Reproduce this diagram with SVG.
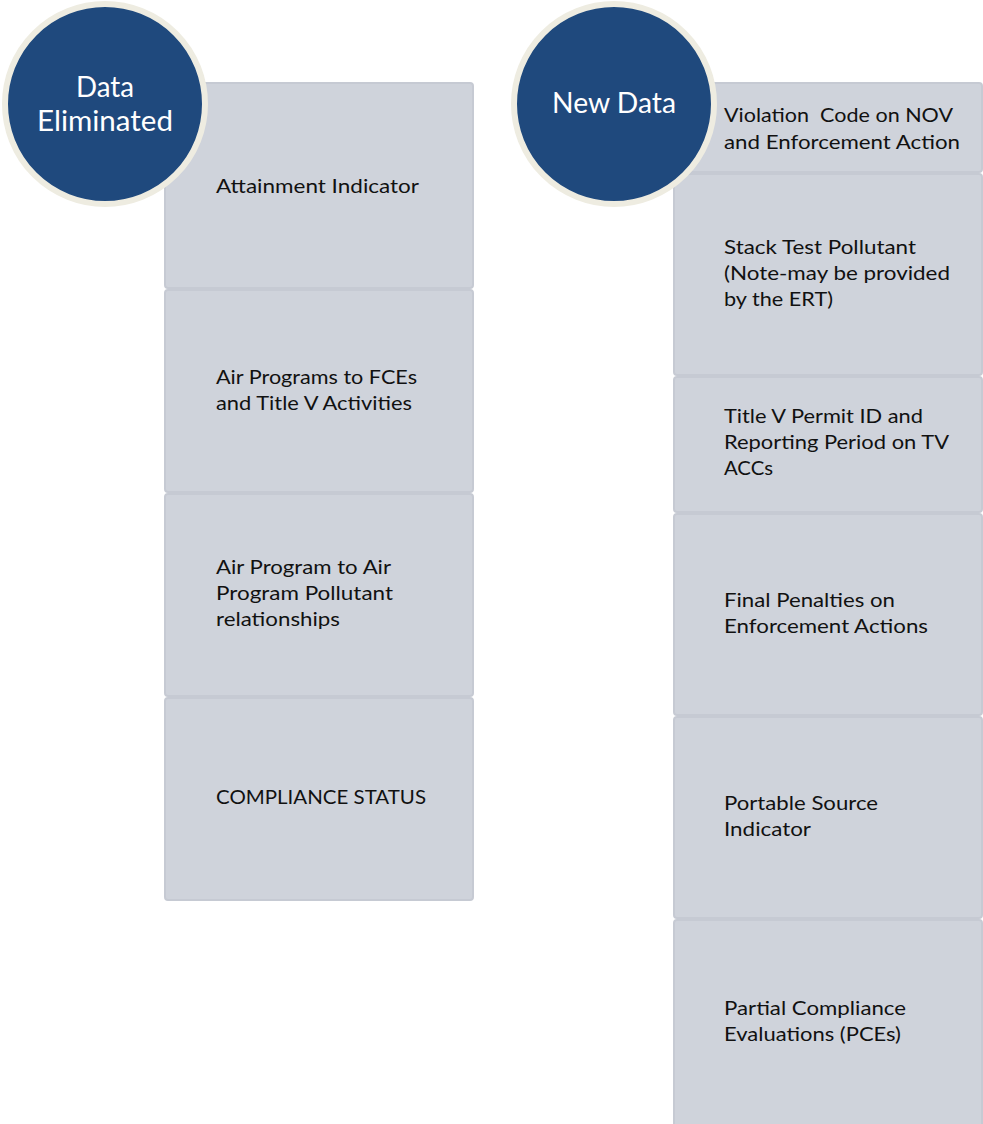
<svg xmlns="http://www.w3.org/2000/svg" width="983" height="1124" viewBox="0 0 983 1124">
<style>
.box{fill:#CFD3DB;stroke:#C6CAD3;stroke-width:2}
.t{font-family:Lato,"Open Sans","Liberation Sans",sans-serif;font-size:20px;fill:#111}
.c{fill:#1F497D;stroke:#EEECE1;stroke-width:6}
.ct{font-family:Lato,"Open Sans","Liberation Sans",sans-serif;font-size:28px;fill:#FFFFFF;text-anchor:middle}
</style>
<rect width="983" height="1124" fill="#FFFFFF"/>
<g id="left-boxes">
<g id="box-attainment"><rect class="box" x="165" y="83" width="308" height="205" rx="3"/>
<text class="t" x="216" y="193" textLength="203" lengthAdjust="spacingAndGlyphs">Attainment Indicator</text></g>
<g id="box-airprograms"><rect class="box" x="165" y="290" width="308" height="202" rx="3"/>
<text class="t" x="216" y="384" textLength="201" lengthAdjust="spacingAndGlyphs">Air Programs to FCEs</text>
<text class="t" x="216" y="410" textLength="196" lengthAdjust="spacingAndGlyphs">and Title V Activities</text></g>
<g id="box-airprogrampollutant"><rect class="box" x="165" y="494" width="308" height="202" rx="3"/>
<text class="t" x="216" y="574" textLength="175" lengthAdjust="spacingAndGlyphs">Air Program to Air</text>
<text class="t" x="216" y="600" textLength="177" lengthAdjust="spacingAndGlyphs">Program Pollutant</text>
<text class="t" x="216" y="626" textLength="124" lengthAdjust="spacingAndGlyphs">relationships</text></g>
<g id="box-compliance"><rect class="box" x="165" y="698" width="308" height="202" rx="3"/>
<text class="t" x="216" y="804" textLength="210" lengthAdjust="spacingAndGlyphs">COMPLIANCE STATUS</text></g>
</g>
<g id="right-boxes">
<g id="box-violation"><rect class="box" x="674" y="83" width="308" height="89" rx="3"/>
<text class="t" x="724" y="122" textLength="229" lengthAdjust="spacingAndGlyphs" xml:space="preserve">Violation  Code on NOV</text>
<text class="t" x="724" y="149" textLength="236" lengthAdjust="spacingAndGlyphs">and Enforcement Action</text></g>
<g id="box-stacktest"><rect class="box" x="674" y="174" width="308" height="201" rx="3"/>
<text class="t" x="724" y="254" textLength="192" lengthAdjust="spacingAndGlyphs">Stack Test Pollutant</text>
<text class="t" x="724" y="280" textLength="226" lengthAdjust="spacingAndGlyphs">(Note-may be provided</text>
<text class="t" x="724" y="306" textLength="109" lengthAdjust="spacingAndGlyphs">by the ERT)</text></g>
<g id="box-titlev"><rect class="box" x="674" y="377" width="308" height="135" rx="3"/>
<text class="t" x="724" y="423" textLength="199" lengthAdjust="spacingAndGlyphs">Title V Permit ID and</text>
<text class="t" x="724" y="449" textLength="225" lengthAdjust="spacingAndGlyphs">Reporting Period on TV</text>
<text class="t" x="724" y="475" textLength="49" lengthAdjust="spacingAndGlyphs">ACCs</text></g>
<g id="box-penalties"><rect class="box" x="674" y="514" width="308" height="201" rx="3"/>
<text class="t" x="724" y="607" textLength="171" lengthAdjust="spacingAndGlyphs">Final Penalties on</text>
<text class="t" x="724" y="633" textLength="204" lengthAdjust="spacingAndGlyphs">Enforcement Actions</text></g>
<g id="box-portable"><rect class="box" x="674" y="717" width="308" height="201" rx="3"/>
<text class="t" x="724" y="810" textLength="154" lengthAdjust="spacingAndGlyphs">Portable Source</text>
<text class="t" x="724" y="836" textLength="87" lengthAdjust="spacingAndGlyphs">Indicator</text></g>
<g id="box-pce"><rect class="box" x="674" y="920" width="308" height="210" rx="3"/>
<text class="t" x="724" y="1015" textLength="182" lengthAdjust="spacingAndGlyphs">Partial Compliance</text>
<text class="t" x="724" y="1041" textLength="177" lengthAdjust="spacingAndGlyphs">Evaluations (PCEs)</text></g>
</g>
<g id="circle-eliminated"><circle class="c" cx="105" cy="104" r="100"/>
<text class="ct" x="105" y="97" textLength="58" lengthAdjust="spacingAndGlyphs">Data</text>
<text class="ct" x="105" y="131" textLength="136" lengthAdjust="spacingAndGlyphs">Eliminated</text></g>
<g id="circle-new"><circle class="c" cx="614" cy="104" r="100"/>
<text class="ct" x="614" y="113" textLength="124" lengthAdjust="spacingAndGlyphs">New Data</text></g>
<g id="connectors"></g>
</svg>
